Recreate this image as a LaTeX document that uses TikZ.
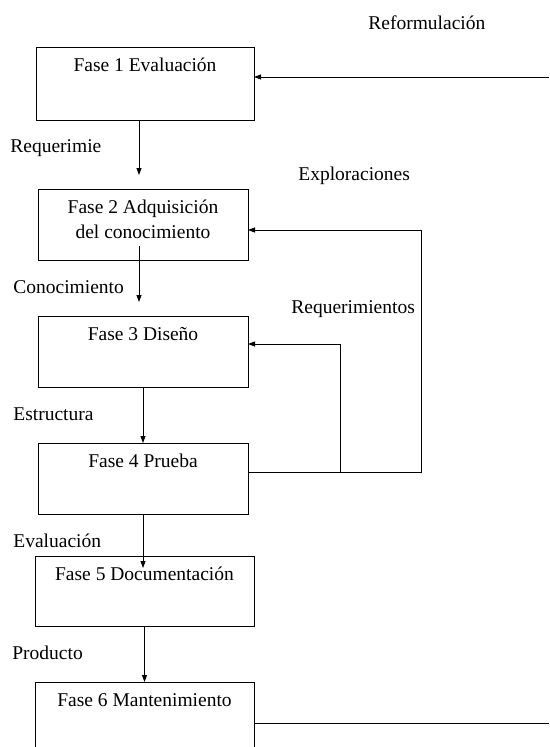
\documentclass[tikz,border=0pt]{standalone}
\usepackage{fontspec}
\setmainfont{Liberation Serif}
\usetikzlibrary{arrows.meta,positioning,calc}

\begin{document}
\begin{tikzpicture}[x=1pt,y=-1pt,>={Triangle[length=7pt,width=5pt]},line width=0.8pt,
  font=\fontsize{19.5}{25}\selectfont,
  fase/.style={draw,rectangle,inner sep=0pt,outer sep=0pt},
  titulo/.style={anchor=north,inner sep=0pt,yshift=-11pt,align=center},
  etiq/.style={anchor=base west,inner sep=0pt}]
\path[use as bounding box,clip] (0,0) rectangle (549,747);
\node[fase,minimum width=218pt,minimum height=73pt,label={[titulo]north:Fase 1 Evaluación}] (f1) at (145,83.5) {};
\node[fase,minimum width=210pt,minimum height=71pt,label={[titulo]north:{Fase 2 Adquisición\\del conocimiento}}] (f2) at (143,224.5) {};
\node[fase,minimum width=210pt,minimum height=71pt,label={[titulo]north:Fase 3 Diseño}] (f3) at (143,351.5) {};
\node[fase,minimum width=210pt,minimum height=71pt,label={[titulo]north:Fase 4 Prueba}] (f4) at (143,478.5) {};
\node[fase,minimum width=219pt,minimum height=70pt,label={[titulo]north:Fase 5 Documentación}] (f5) at (144.5,591) {};
\node[fase,minimum width=219pt,minimum height=100pt,label={[titulo]north:Fase 6 Mantenimiento}] (f6) at (144.5,732) {};
\node[etiq] (reform) at (368,29)  {Reformulación};
\node[etiq] (req1)   at (10,152)  {Requerimie};
\node[etiq] (explor) at (298,180) {Exploraciones};
\node[etiq] (conoc)  at (13,293)  {Conocimiento};
\node[etiq] (reqs)   at (291,313) {Requerimientos};
\node[etiq] (estruc) at (13,420)  {Estructura};
\node[etiq] (evalu)  at (13,547)  {Evaluación};
\node[etiq] (produc) at (12,659)  {Producto};
\coordinate (entra) at (549,77);
\coordinate (sale)  at (549,723);
\coordinate (c2) at (421,230);
\coordinate (c3) at (340,344);
\coordinate (s4) at ([yshift=6.5pt]f4.east);
\draw[->] ([xshift=-6pt]f1.south) -- ++(0,55);
\draw[->] ([xshift=-4pt,yshift=14pt]f2.south) -- ++(0,56);
\draw[->] (f3.south) -- (f4.north);
\draw[->] (f4.south) -- ++(0,54);
\draw[->] (f5.south) -- (f6.north);
\draw[->] (entra) -- (entra -| f1.east);
\draw ([yshift=9pt]f6.east) -- (sale);
\draw[->] (s4) -| (c2) -- (c2 -| f2.east);
\draw[->] (s4 -| c3) -- (c3) -- (c3 -| f3.east);
\end{tikzpicture}
\end{document}
